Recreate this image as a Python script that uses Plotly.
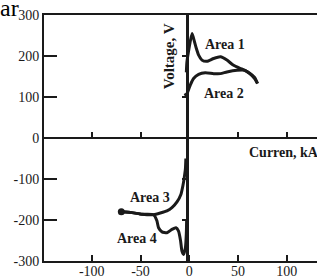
import plotly.graph_objects as go

# ---- data ----
X_RANGE = [-149, 131]
Y_RANGE = [-300, 300]
AXIS_X = -2.5  # where the vertical zero axis is drawn in the scan

x_ticks = [-100, -50, 0, 50, 100]
y_ticks = [-300, -200, -100, 0, 100, 200, 300]
zero_x_ticks = [-100, -50, 50, 100]
zero_y_ticks = [-200, -100, 100, 200]

area1_i = [-3, -2.4, 2.8, 4.4, 7.2, 9.6, 13, 18, 25, 32, 38.6, 45, 52, 57, 62, 67, 70]
area1_v = [160, 186, 255, 243, 219, 202, 190, 187, 194, 198, 190, 178, 170, 165, 157, 145, 133]

area2_i = [-5, -2.4, 1, 4.4, 9.6, 16.4, 25, 32, 38.6, 49, 57, 62, 67, 70]
area2_v = [104, 108, 129, 145, 155, 159, 157, 157, 161, 165, 165, 158, 148, 133]

area3_i = [-69.7, -58.8, -48.5, -36.6, -29.7, -22.9, -17.8, -12.6, -8.5, -6.5, -5.1, -4, -3.5]
area3_v = [-180, -182, -186, -187, -183, -178, -170, -156, -137, -116, -96, -76, -50]

area4_i = [-69.7, -58.8, -48.5, -36.6, -33.2, -31.5, -28, -22.9, -17.8, -13.7, -11, -8.9, -7.5, -5.8, -4, -3, -2.7]
area4_v = [-180, -182, -186, -187, -202, -219, -229, -231, -223, -219, -227, -251, -276, -284, -268, -231, -198]

label_text = ["Area 1", "Area 2", "Area 3", "Area 4"]
label_i = [14.4, 13.3, -62.5, -75.9]
label_v = [227, 109, -146, -246]

x_title = "Curren, kA"
y_title = "Voltage, V"

# ---- styling ----
INK = "#1a1a1a"
FONT = "Liberation Serif"

fig = go.Figure()

for xi, yv, name in [(area1_i, area1_v, "Area 1"), (area2_i, area2_v, "Area 2"),
                     (area3_i, area3_v, "Area 3"), (area4_i, area4_v, "Area 4")]:
    fig.add_trace(go.Scatter(
        x=xi, y=yv, mode="lines", name=name,
        line=dict(color=INK, width=3, shape="spline", smoothing=0.5),
        showlegend=False, hoverinfo="skip"))

# start blob of lower curves
fig.add_trace(go.Scatter(x=area3_i[:1], y=area3_v[:1], mode="markers",
                         marker=dict(color=INK, size=7), showlegend=False, hoverinfo="skip"))

# dummy trace so the overlaid zero axes render
fig.add_trace(go.Scatter(x=[None], y=[None], xaxis="x2", yaxis="y2",
                         showlegend=False, hoverinfo="skip"))

tickfont = dict(family=FONT, size=14, color=INK)

fig.update_layout(
    width=317, height=278,
    margin=dict(l=44, r=0, t=15, b=17),
    paper_bgcolor="white", plot_bgcolor="white",
    font=dict(family=FONT, color=INK),
    xaxis=dict(range=X_RANGE, tickvals=x_ticks, ticktext=[str(v) for v in x_ticks],
               showline=True, linecolor=INK, linewidth=2, mirror=True,
               ticks="inside", ticklen=6, tickwidth=2, tickcolor=INK,
               ticklabelstandoff=-4,
               showgrid=False, zeroline=False, tickfont=tickfont, automargin=False),
    yaxis=dict(range=Y_RANGE, tickvals=y_ticks, ticktext=[str(v) for v in y_ticks],
               showline=True, linecolor=INK, linewidth=2, mirror=False,
               ticks="inside", ticklen=13, tickwidth=2, tickcolor=INK,
               showgrid=False, zeroline=False, tickfont=tickfont, automargin=False),
    xaxis2=dict(range=X_RANGE, overlaying="x", anchor="free",
                position=(0 - Y_RANGE[0]) / (Y_RANGE[1] - Y_RANGE[0]),
                tickvals=zero_x_ticks, showticklabels=False,
                showline=True, linecolor=INK, linewidth=2,
                ticks="inside", ticklen=5, tickwidth=2, tickcolor=INK,
                showgrid=False, zeroline=False, automargin=False),
    yaxis2=dict(range=Y_RANGE, overlaying="y", anchor="free", side="left",
                position=(AXIS_X - X_RANGE[0]) / (X_RANGE[1] - X_RANGE[0]),
                tickvals=zero_y_ticks, showticklabels=False,
                showline=True, linecolor=INK, linewidth=2.5,
                ticks="outside", ticklen=4, tickwidth=2, tickcolor=INK,
                showgrid=False, zeroline=False, automargin=False),
)

annotations = []
for t, xi, yv in zip(label_text, label_i, label_v):
    annotations.append(dict(x=xi, y=yv, xref="x", yref="y", text=f"<b>{t}</b>",
                            showarrow=False, xanchor="left", yanchor="middle",
                            font=dict(family=FONT, size=14, color=INK)))
annotations.append(dict(x=59.5, y=-35.5, xref="x", yref="y", text=f"<b>{x_title}</b>",
                        showarrow=False, xanchor="left", yanchor="middle",
                        font=dict(family=FONT, size=14, color=INK)))
annotations.append(dict(x=-20.5, y=200, xref="x", yref="y", text=f"<b>{y_title}</b>",
                        showarrow=False, textangle=-90, xanchor="center", yanchor="middle",
                        font=dict(family=FONT, size=15, color=INK)))
annotations.append(dict(x=0, y=1, xref="paper", yref="paper", text="ar",
                        showarrow=False, xanchor="left", yanchor="bottom",
                        xshift=-46, yshift=-8,
                        font=dict(family=FONT, size=24, color="black")))
fig.update_layout(annotations=annotations)

fig.write_html("out.html", config={"displayModeBar": False},
               post_script="document.body.style.margin='0px';")
